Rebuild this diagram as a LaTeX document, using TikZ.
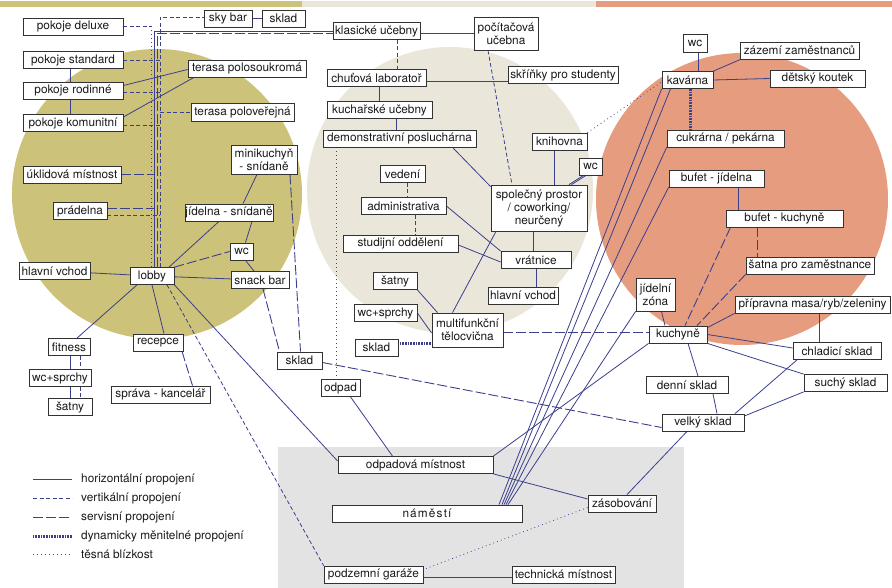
\documentclass[tikz,border=0pt]{standalone}
\usepackage{fontspec}
\setmainfont{TeX Gyre Heros}
\usetikzlibrary{calc}
\definecolor{olv}{RGB}{204,194,122}
\definecolor{bei}{RGB}{234,230,218}
\definecolor{sal}{RGB}{230,156,127}
\definecolor{gry}{RGB}{227,227,227}
\definecolor{lnc}{RGB}{59,63,140}
\definecolor{bxc}{RGB}{50,50,50}
\pgfdeclarelayer{bg}\pgfdeclarelayer{edges}
\pgfsetlayers{bg,edges,main}
\newcommand{\bx}[6]{\node[box,minimum width=#4pt,minimum height=#5pt] (#1) at (#2,#3) {#6};}
\begin{document}
\begin{tikzpicture}[x=1pt,y=-1pt,
  box/.style={draw=bxc,fill=white,line width=0.8pt,inner sep=0pt,align=center,
    font=\fontsize{11.8}{13}\selectfont,text=black!90},
  horiz/.style={draw=lnc,line width=0.8pt},
  vert/.style={draw=lnc,line width=0.8pt,dash pattern=on 4pt off 2.5pt},
  serv/.style={draw=lnc,line width=0.9pt,dash pattern=on 10pt off 3pt},
  dyn/.style={draw=lnc,line width=3pt,dash pattern=on 0.8pt off 0.8pt},
  close/.style={draw=lnc,line width=0.8pt,dash pattern=on 0.8pt off 3.2pt},
  lgt/.style={anchor=west,inner sep=0pt,font=\fontsize{11.8}{13}\selectfont,text=black!90}]
\useasboundingbox (0,0) rectangle (892,588);
\begin{pgfonlayer}{bg}
\fill[white] (0,0) rectangle (892,588);
\fill[olv] (0,1.5) rectangle (302,7);
\fill[bei] (302,1.5) rectangle (596,7);
\fill[sal] (596,1.5) rectangle (892,7);
\fill[olv] (157,194) circle[radius=145pt];
\fill[bei] (450,190) circle[radius=143pt];
\fill[sal] (742,199) circle[radius=146pt];
\fill[gry] (278,447) rectangle (684,588);
\end{pgfonlayer}

% nodes
\bx{deluxe}{73}{26.5}{100}{17}{pokoje deluxe}
\bx{skybar}{228}{18.5}{48}{17}{sky bar}
\bx{skladA}{283.5}{18.5}{43}{17}{sklad}
\bx{standard}{73}{60}{100}{17}{pokoje standard}
\bx{rodinne}{73}{90.5}{100}{17}{pokoje rodinné}
\bx{komun}{73}{123}{100}{17}{pokoje komunitní}
\bx{polosouk}{247}{68.5}{118}{17}{terasa polosoukromá}
\bx{poloverej}{242.5}{112.5}{103}{18}{terasa poloveřejná}
\bx{uklid}{72}{174.5}{98}{17}{úklidová místnost}
\bx{minik}{264}{159.5}{66}{29}{minikuchyň\\- snídaně}
\bx{pradelna}{80}{211}{54}{17}{prádelna}
\bx{jidsnid}{229}{212.5}{88}{17}{jídelna - snídaně}
\bx{wcA}{241.5}{251.5}{23}{17}{wc}
\bx{hvA}{54.5}{271}{71}{17}{hlavní vchod}
\bx{lobby}{152}{276}{44}{17}{lobby}
\bx{snack}{260}{280}{58}{17}{snack bar}
\bx{fitness}{69}{347}{42}{17}{fitness}
\bx{recepce}{158}{342.5}{50}{17}{recepce}
\bx{wcsprA}{60}{378}{62}{17}{wc+sprchy}
\bx{sprava}{160.5}{394.5}{99}{17}{správa - kancelář}
\bx{satnyA}{70}{407}{44}{17}{šatny}
\bx{skladB}{299.5}{360.5}{45}{17}{sklad}
\bx{odpad}{340.5}{388}{39}{17}{odpad}

\bx{klasicke}{376.5}{31}{87}{17}{klasické učebny}
\bx{pocit}{506}{33.5}{64}{33}{počítačová\\učebna}
\bx{chutova}{376.5}{77.5}{99}{17}{chuťová laboratoř}
\bx{skrinky}{563}{75}{110}{17}{skříňky pro studenty}
\bx{kuchuc}{379.5}{110}{105}{17}{kuchařské učebny}
\bx{demo}{399.5}{138.5}{153}{17}{demonstrativní posluchárna}
\bx{knihovna}{559.5}{141.5}{55}{17}{knihovna}
\bx{wcB}{590.5}{166.5}{23}{17}{wc}
\bx{vedeni}{402.5}{174}{45}{17}{vedení}
\bx{admin}{403.5}{206}{85}{17}{administrativa}
\bx{spol}{539}{208}{96}{46}{společný prostor\\/ coworking/\\neurčený}
\bx{studij}{400.5}{243.5}{115}{17}{studijní oddělení}
\bx{vratnice}{536}{260}{70}{17}{vrátnice}
\bx{satnyB}{395}{281}{44}{17}{šatny}
\bx{hvB}{523}{295.5}{70}{17}{hlavní vchod}
\bx{wcsprB}{385.5}{313}{63}{17}{wc+sprchy}
\bx{multi}{467.5}{330}{71}{34}{multifunkční\\tělocvična}
\bx{skladC}{376.5}{347.5}{43}{17}{sklad}

\bx{wcC}{695}{43}{24}{18}{wc}
\bx{zazemi}{799.5}{50.5}{119}{17}{zázemí zaměstnanců}
\bx{kavarna}{687.5}{80}{51}{17}{kavárna}
\bx{detsky}{817.5}{78.5}{95}{17}{dětský koutek}
\bx{cukrarna}{725.5}{138.5}{117}{17}{cukrárna / pekárna}
\bx{bufetJ}{716.5}{178.5}{95}{17}{bufet - jídelna}
\bx{bufetK}{784.5}{218.5}{117}{17}{bufet - kuchyně}
\bx{satnaZ}{810}{265.5}{128}{17}{šatna pro zaměstnance}
\bx{jidzona}{655.5}{294.5}{39}{33}{jídelní\\zóna}
\bx{pripravna}{812.5}{304.5}{155}{17}{přípravna masa/ryb/zeleniny}
\bx{kuchyne}{678}{334.5}{58}{17}{kuchyně}
\bx{chladici}{837}{351}{88}{17}{chladicí sklad}
\bx{denni}{687}{385}{82}{17}{denní sklad}
\bx{suchy}{845.5}{383}{83}{17}{suchý sklad}
\bx{velky}{703}{422.5}{82}{17}{velký sklad}

\bx{odpadova}{415.5}{465}{155}{17}{odpadová místnost}
\bx{namesti}{427}{513.5}{190}{17}{{\addfontfeatures{LetterSpace=10}náměstí}}
\bx{zasob}{622}{503.5}{68}{17}{zásobování}
\bx{garaze}{373.5}{574.5}{99}{17}{podzemní garáže}
\bx{technicka}{563.5}{574.5}{103}{17}{technická místnost}

% helper coordinates
\coordinate (busDot) at (151.5,0);
\coordinate (busSol) at (154.5,0);
\coordinate (busSrv) at (157,0);
\coordinate (busVrt) at (160,0);
\coordinate (vtop) at (160,17);
\coordinate (stop) at (154.5,31.5);
\coordinate (svtop) at (157,33.5);
\coordinate (fx1) at (70,0);
\coordinate (fx2) at (80,0);
\coordinate (dx) at (336,0);
\coordinate (c397) at (397,0);
\coordinate (c379) at (379,0);
\coordinate (c396) at (396,0);
\coordinate (c554) at (554,0);
\coordinate (c407) at (407,0);
\coordinate (c415) at (415,0);
\coordinate (c533) at (533,0);
\coordinate (c536) at (536,0);
\coordinate (c698) at (698,0);
\coordinate (c690) at (690,0);
\coordinate (c738) at (738,0);
\coordinate (c757) at (757,0);
\coordinate (c819) at (819,0);
\coordinate (k1) at ([yshift=-2pt]klasicke.east);
\coordinate (ch1) at ([yshift=-3.5pt]chutova.east);
\coordinate (sk) at ([yshift=4pt]skladC.east);
\coordinate (mk) at ([yshift=-2pt]multi.east);
\coordinate (gt) at ([yshift=-2.5pt]garaze.east);
\coordinate (pr1) at ([yshift=3pt]pradelna.east);
\coordinate (pr2) at ([yshift=-4pt]pradelna.east);
\coordinate (ro1) at ([yshift=-1.5pt]rodinne.east);
\coordinate (ko1) at ([yshift=-2pt]komun.east);

\begin{pgfonlayer}{edges}
% left bus
\draw[vert] (lobby.north -| busVrt) -- (vtop) -- (skybar.west |- vtop);
\draw[horiz] (lobby.north -| busSol) -- (stop) -- (klasicke.west |- stop);
\draw[serv] (lobby.north -| busSrv) -- (svtop) -- (klasicke.west |- svtop);
\draw[close] (lobby.north -| busDot) -- (deluxe.east -| busDot);
\draw[vert] (deluxe.east) -- (deluxe.east -| busDot);
\draw[vert] (standard.east) -- (standard.east -| busVrt);
\draw[vert] (ro1) -- (ro1 -| busVrt);
\draw[vert] (ko1) -- (ko1 -| busVrt);
\draw[vert] (poloverej.west -| busVrt) -- (poloverej.west);
\draw[serv] (uklid.east) -- (uklid.east -| busSol);
\draw[serv] (pr1) -- (pr1 -| busSol);
\draw[vert] (pr2) -- (pr2 -| busVrt);
% left cluster
\draw[horiz] (standard.south -| fx1) -- (rodinne.north -| fx1);
\draw[horiz] (rodinne.south -| fx1) -- (komun.north -| fx1);
\draw[horiz] ([yshift=5pt]rodinne.east) -- ([yshift=-1pt]polosouk.west);
\draw[horiz] ([yshift=6pt]komun.east) -- ([xshift=-53pt]polosouk.south);
\draw[horiz] (skybar) -- (skladA);
\draw[horiz] (lobby) -- (hvA);
\draw[horiz] ([xshift=17pt]lobby.north) -- ([xshift=-10pt]jidsnid.south);
\draw[horiz] ([xshift=14pt]jidsnid.north) -- ([xshift=-7pt]minik.south);
\draw[horiz] ([xshift=23pt]jidsnid.south) -- ([xshift=4pt]wcA.north);
\draw[serv] (lobby.north east) -- (wcA.west);
\draw[horiz] ([xshift=4pt]wcA.south) -- ([xshift=-6pt]snack.north);
\draw[horiz] (lobby) -- (snack);
\draw[serv] ([xshift=3pt]snack.south) -- ([xshift=-20pt]skladB.north);
\draw[serv] ([xshift=26pt]minik.south) -- ([xshift=1pt]skladB.north);
\draw[horiz] ([xshift=-15pt]lobby.south) -- ([xshift=8pt]fitness.north);
\draw[horiz] (lobby.south) -- ([xshift=6pt]recepce.north);
\draw[serv] ([xshift=24pt]recepce.south) -- ([xshift=32pt]sprava.north);
\draw[horiz] (fitness.south -| fx1) -- (wcsprA.north -| fx1);
\draw[vert] (fitness.south -| fx2) -- (wcsprA.north -| fx2);
\draw[horiz] (wcsprA.south -| fx1) -- (satnyA.north -| fx1);
\draw[vert] (wcsprA.south -| fx2) -- (satnyA.north -| fx2);
\draw[vert] ([xshift=15pt]lobby.south) -- (garaze.north west);
\draw[horiz] (lobby.south east) -- ([yshift=4pt]odpadova.west);
\draw[serv] ([yshift=-2pt]skladB.east) -- ([yshift=-5pt]velky.west);
\draw[horiz] ([xshift=10pt]odpad.south) -- ([xshift=-23pt]odpadova.north);
\draw[close] (demo.south -| dx) -- (odpad.north -| dx);
% beige cluster
\draw[horiz] (k1) -- (k1 -| pocit.west);
\draw[vert] (klasicke.south -| c397) -- (chutova.north -| c397);
\draw[horiz] (ch1) -- (ch1 -| skrinky.west);
\draw[horiz] (chutova.south -| c379) -- (kuchuc.north -| c379);
\draw[horiz] (kuchuc.south -| c396) -- (demo.north -| c396);
\draw[horiz] ([xshift=53pt]demo.south) -- ([yshift=-2pt]spol.north west);
\draw[vert] ([xshift=-18pt]pocit.south) -- ([xshift=-27pt]spol.north);
\draw[horiz] (knihovna.south -| c554) -- (spol.north -| c554);
\draw[horiz] ([xshift=-7pt]wcB.south) -- ([xshift=30pt]spol.north);
\draw[horiz] ([xshift=-4.5pt]wcB.south) -- ([xshift=32.5pt]spol.north);
\draw[close] (knihovna.north east) -- ([yshift=-2pt]kavarna.west);
\draw[vert] (vedeni.south -| c407) -- (admin.north -| c407);
\draw[vert] (admin.south -| c415) -- (studij.north -| c415);
\draw[horiz] (admin.east) -- (vratnice.north west);
\draw[horiz] ([yshift=-1.5pt]studij.east) -- ([yshift=-2pt]vratnice.west);
\draw[horiz] (spol.south -| c533) -- (vratnice.north -| c533);
\draw[horiz] (vratnice.south -| c536) -- (hvB.north -| c536);
\draw[horiz] ([xshift=-43pt]spol.south) -- ([xshift=-15pt]multi.north);
\draw[horiz] (satnyB.south east) -- ([xshift=-30pt]multi.north);
\draw[horiz] (wcsprB.east) -- ([yshift=-3pt]multi.west);
\draw[dyn] (sk) -- (sk -| multi.west);
\draw[serv] (mk) -- (mk -| kuchyne.west);
% salmon cluster
\draw[horiz] (kavarna.north -| c698) -- (wcC.south -| c698);
\draw[horiz] (kavarna.north east) -- ([xshift=-59pt]zazemi.south);
\draw[horiz] (kavarna.east) -- (detsky.west);
\draw[dyn] (kavarna.south -| c690) -- (cukrarna.north -| c690);
\draw[horiz] (bufetJ.south -| c738) -- (bufetK.north -| c738);
\draw[serv] (bufetK.south -| c757) -- (satnaZ.north -| c757);
\draw[serv] ([xshift=-54pt]bufetK.south) -- ([xshift=7pt]kuchyne.north);
\draw[serv] (satnaZ.south west) -- ([xshift=19pt]kuchyne.north);
\draw[horiz] (pripravna.south west) -- ([yshift=-2pt]kuchyne.north east);
\draw[horiz] (pripravna.south -| c819) -- (chladici.north -| c819);
\draw[horiz] ([xshift=6pt]jidzona.south) -- ([xshift=-13pt]kuchyne.north);
\draw[horiz] (kuchyne.east) -- ([yshift=3pt]chladici.west);
\draw[horiz] (kuchyne.south east) -- (suchy.north west);
\draw[horiz] ([xshift=10pt]kuchyne.south) -- ([xshift=11pt]denni.north);
\draw[horiz] ([xshift=26pt]denni.south) -- ([xshift=14pt]velky.north);
\draw[horiz] ([xshift=32pt]velky.north) -- ([xshift=-40pt]chladici.south);
\draw[horiz] ([yshift=6.5pt]velky.east) -- (suchy.south west);
\draw[horiz] ([xshift=-16pt]velky.south) -- ([xshift=5pt]zasob.north);
\draw[horiz] (kuchyne.south west) -- (odpadova.north east);
\draw[horiz] (odpadova.south east) -- ([yshift=4.5pt]zasob.west);
\draw[close] ([yshift=-4pt]zasob.west) -- ([yshift=5pt]garaze.east);
\draw[horiz] (gt) -- (gt -| technicka.west);
% namesti fan
\draw[horiz] ([xshift=72pt]namesti.north) -- (kavarna.south west);
\draw[horiz] ([xshift=75pt]namesti.north) -- ([xshift=-17pt]kavarna.south);
\draw[horiz] ([xshift=77pt]namesti.north) -- (cukrarna.south west);
\draw[horiz] ([xshift=79pt]namesti.north) -- (bufetJ.south west);
\draw[horiz] ([xshift=81pt]namesti.north) -- (jidzona.south west);
\end{pgfonlayer}

% legend
\coordinate (l1a) at (33,479.5); \coordinate (l1b) at (72,479.5);
\coordinate (l2a) at (33,498.5); \coordinate (l2b) at (72,498.5);
\coordinate (l3a) at (33,517.5); \coordinate (l3b) at (72,517.5);
\coordinate (l4a) at (33,536.5); \coordinate (l4b) at (72,536.5);
\coordinate (l5a) at (33,554.5); \coordinate (l5b) at (72,554.5);
\draw[horiz] (l1a) -- (l1b);
\draw[vert] (l2a) -- (l2b);
\draw[serv] (l3a) -- (l3b);
\draw[dyn] (l4a) -- (l4b);
\draw[close] (l5a) -- (l5b);
\node[lgt] (lg1) at (81,479.5) {horizontální propojení};
\node[lgt] (lg2) at (81,498.5) {vertikální propojení};
\node[lgt] (lg3) at (81,517.5) {servisní propojení};
\node[lgt] (lg4) at (81,536.5) {dynamicky měnitelné propojení};
\node[lgt] (lg5) at (81,554.5) {těsná blízkost};
\end{tikzpicture}
\end{document}
